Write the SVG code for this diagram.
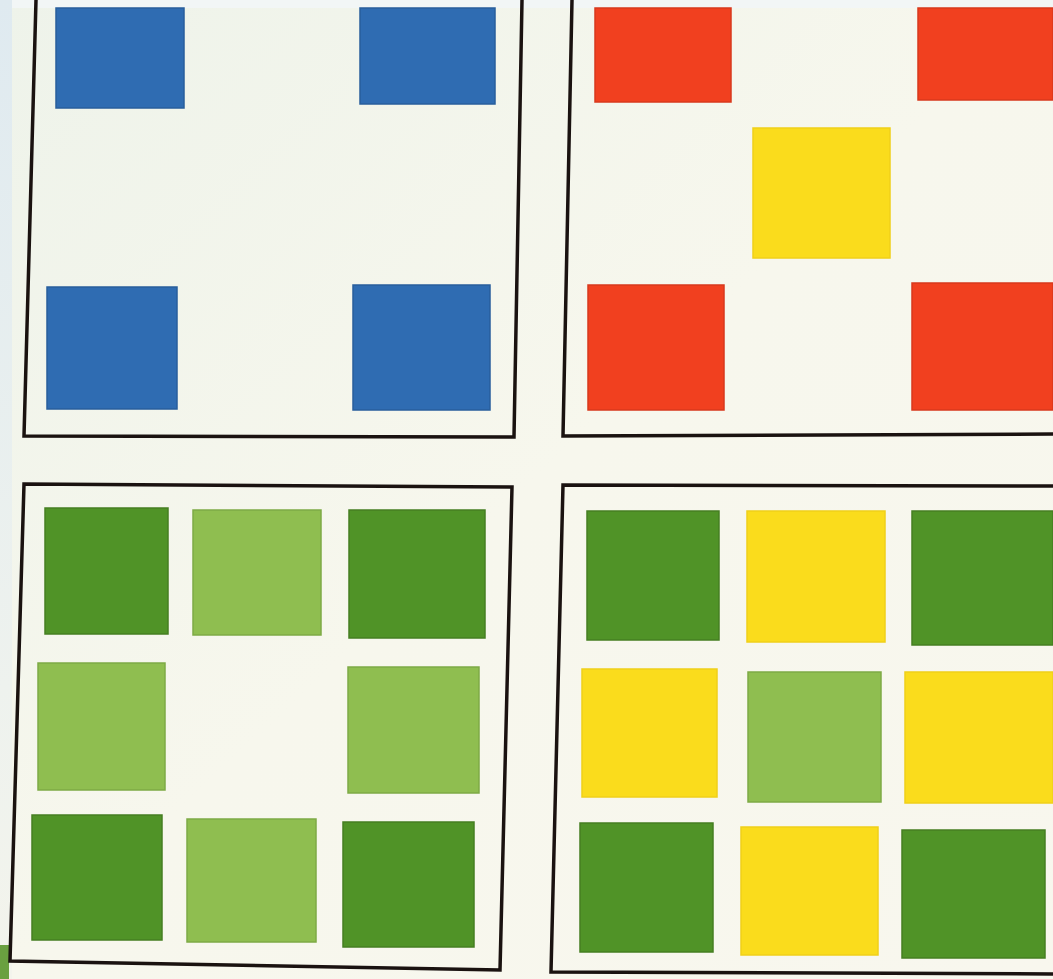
<svg xmlns="http://www.w3.org/2000/svg" width="1053" height="979" viewBox="0 0 1053 979">
<defs>
<style>
.frame{fill:none;stroke:#1a1210;stroke-width:3.5;stroke-linejoin:miter}
.blue{fill:#2f6cb2;stroke:#285e9c;stroke-width:1.5}
.red{fill:#f1401f;stroke:#d8381c;stroke-width:1.5}
.yel{fill:#fadc1c;stroke:#f0d018;stroke-width:1.5}
.dg{fill:#509327;stroke:#457f22;stroke-width:1.5}
.lg{fill:#8fbe50;stroke:#7eaa45;stroke-width:1.5}
</style>
<linearGradient id="bg" x1="0" y1="0" x2="1" y2="1">
<stop offset="0" stop-color="#eef3ea"/>
<stop offset="0.5" stop-color="#f7f7ed"/>
<stop offset="1" stop-color="#f8f7ee"/>
</linearGradient>
<linearGradient id="lstrip" x1="0" y1="0" x2="0" y2="1">
<stop offset="0" stop-color="#dfeaf0"/>
<stop offset="0.7" stop-color="#eef2ee"/>
<stop offset="1" stop-color="#f3f4ec"/>
</linearGradient>
</defs>
<rect x="0" y="0" width="1053" height="979" fill="url(#bg)"/>
<rect x="0" y="0" width="1053" height="8" fill="#f2f6f6"/>
<rect x="0" y="0" width="12" height="979" fill="url(#lstrip)"/>
<rect x="0" y="945" width="9" height="34" fill="#6aa040"/>
<g id="panel-blue">
<path class="frame" d="M36,0 L24,436 L514,437 L522,0"/>
<rect class="blue" x="56" y="8" width="128" height="100"/>
<rect class="blue" x="360" y="8" width="135" height="96"/>
<rect class="blue" x="47" y="287" width="130" height="122"/>
<rect class="blue" x="353" y="285" width="137" height="125"/>
</g>
<g id="panel-red">
<path class="frame" d="M572,0 L563,436 L1053,434"/>
<rect class="red" x="595" y="8" width="136" height="94"/>
<rect class="red" x="918" y="8" width="135" height="92"/>
<rect class="yel" x="753" y="128" width="137" height="130"/>
<rect class="red" x="588" y="285" width="136" height="125"/>
<rect class="red" x="912" y="283" width="141" height="127"/>
</g>
<g id="panel-green">
<path class="frame" d="M24,484 L512,487 L500,970 L10,961 Z"/>
<rect class="dg" x="45" y="508" width="123" height="126"/>
<rect class="lg" x="193" y="510" width="128" height="125"/>
<rect class="dg" x="349" y="510" width="136" height="128"/>
<rect class="lg" x="38" y="663" width="127" height="127"/>
<rect class="lg" x="348" y="667" width="131" height="126"/>
<rect class="dg" x="32" y="815" width="130" height="125"/>
<rect class="lg" x="187" y="819" width="129" height="123"/>
<rect class="dg" x="343" y="822" width="131" height="125"/>
</g>
<g id="panel-mixed">
<path class="frame" d="M1053,486 L563,485 L551,972 L1053,974"/>
<rect class="dg" x="587" y="511" width="132" height="129"/>
<rect class="yel" x="747" y="511" width="138" height="131"/>
<rect class="dg" x="912" y="511" width="141" height="134"/>
<rect class="yel" x="582" y="669" width="135" height="128"/>
<rect class="lg" x="748" y="672" width="133" height="130"/>
<rect class="yel" x="905" y="672" width="148" height="131"/>
<rect class="dg" x="580" y="823" width="133" height="129"/>
<rect class="yel" x="741" y="827" width="137" height="128"/>
<rect class="dg" x="902" y="830" width="143" height="128"/>
</g>
</svg>
